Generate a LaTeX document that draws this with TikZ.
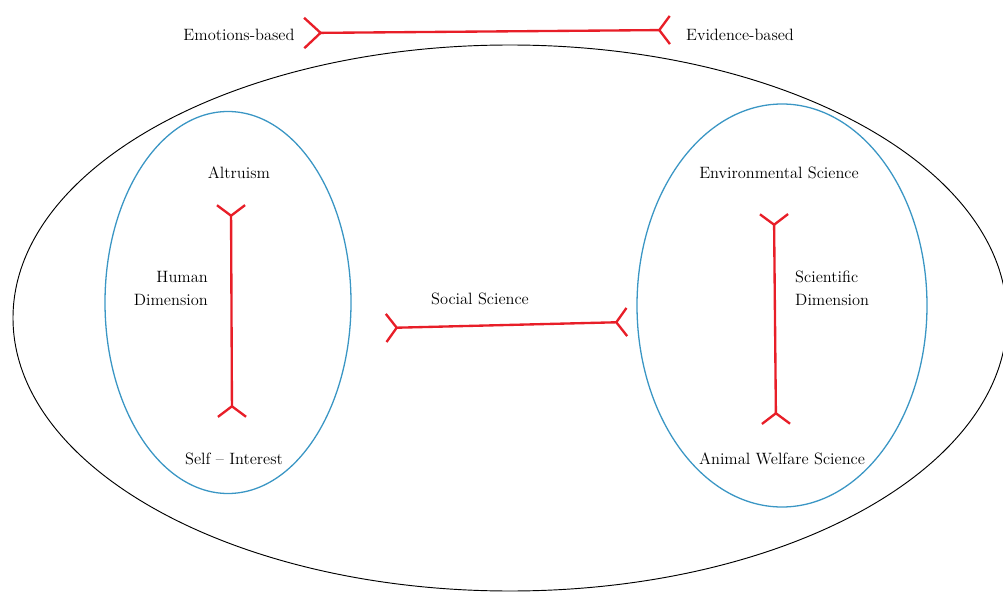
\documentclass[tikz,border=0pt]{standalone}
\usetikzlibrary{arrows.meta}
\definecolor{forkred}{RGB}{232,30,40}
\definecolor{ringblue}{RGB}{58,150,196}
\begin{document}
\begin{tikzpicture}[x=0.03cm,y=-0.03cm,
  lbl/.style={font=\fontsize{14}{19.6}\selectfont, inner sep=0pt},
  forkline/.style={draw=forkred, line width=2pt},
  fork/.style={forkline,
    {Straight Barb[reversed,length=#1,width=24pt]}-{Straight Barb[reversed,length=#1,width=24pt]}},
  fork/.default=9pt,
  ring/.style={draw=ringblue, line width=1.1pt},
  outer/.style={draw=black, line width=0.8pt}]
\useasboundingbox (0,0) rectangle (1003,592);
\draw[outer] (510,318) ellipse [x radius=497, y radius=273];
\draw[ring] (228,302.5) ellipse [x radius=123, y radius=191];
\draw[ring] (782,305.5) ellipse [x radius=145, y radius=201.5];

\node[lbl] (emo) at (239,35) {Emotions-based};
\node[lbl] (evi) at (740,35) {Evidence-based};
\node[lbl] (alt) at (239,173) {Altruism};
\node[lbl, align=right, anchor=east] (hum) at (208,288) {Human\\Dimension};
\node[lbl, align=left, anchor=west] (sci) at (795,288) {Scientific\\Dimension};
\node[lbl] (soc) at (480,299) {Social Science};
\node[lbl] (self) at (234,459) {Self -- Interest};
\node[lbl] (env) at (779,173) {Environmental Science};
\node[lbl] (ani) at (782,459) {Animal Welfare Science};

\coordinate (t1) at (303,33);
\coordinate (t2) at (671,30);
\coordinate (h1) at (231,204);
\coordinate (h2) at (232,418);
\coordinate (s1) at (774,213);
\coordinate (s2) at (776,425);
\coordinate (m1) at (385,328);
\coordinate (m2) at (628,322);

\draw[forkline, {Straight Barb[reversed,length=14pt,width=26pt]}-{Straight Barb[reversed,length=9pt,width=24pt]}] (t1) -- (t2);
\draw[fork] (h1) -- (h2);
\draw[fork] (s1) -- (s2);
\draw[fork] (m1) -- (m2);
\end{tikzpicture}
\end{document}
